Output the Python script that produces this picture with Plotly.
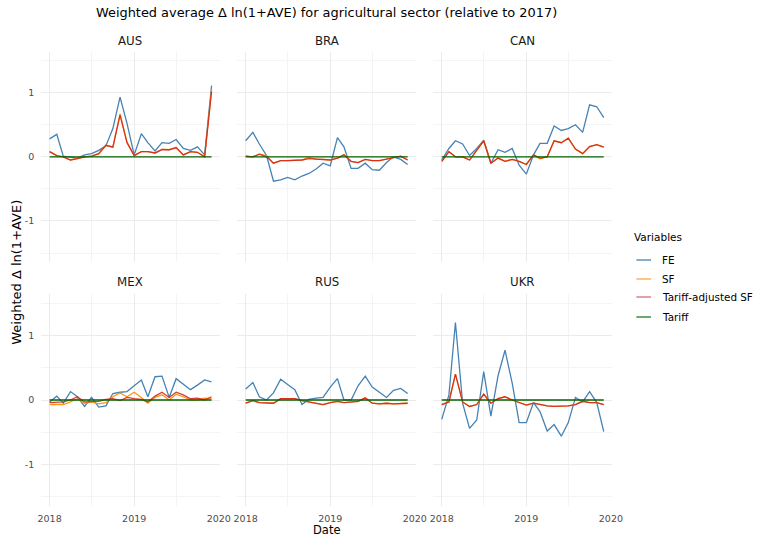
import pandas as pd
import plotly.graph_objects as go
from plotly.subplots import make_subplots

# Monthly observations, Jan 2018 - Dec 2019
months = pd.date_range("2018-01-01", "2019-12-01", freq="MS")

countries = ["AUS", "BRA", "CAN", "MEX", "RUS", "UKR"]
series_names = ["FE", "SF", "Tariff-adjusted SF", "Tariff"]

# Weighted Δ ln(1+AVE), one list per country and measure
aus_fe = [0.28, 0.35, 0.01, -0.01, -0.02, 0.03, 0.05, 0.10, 0.17, 0.44, 0.93, 0.52,
          0.03, 0.36, 0.22, 0.09, 0.22, 0.21, 0.27, 0.13, 0.10, 0.155, 0.03, 1.11]
aus_sf = [0.08, 0.02, 0.0, -0.05, -0.03, 0.0, 0.01, 0.05, 0.18, 0.15, 0.67, 0.23,
          0.02, 0.08, 0.08, 0.06, 0.12, 0.11, 0.15, 0.03, 0.08, 0.07, 0.0, 1.05]
aus_tsf = [0.08, 0.02, 0.0, -0.05, -0.03, 0.0, 0.01, 0.05, 0.18, 0.15, 0.65, 0.22,
           0.02, 0.08, 0.08, 0.06, 0.11, 0.11, 0.14, 0.03, 0.08, 0.07, 0.0, 1.02]
aus_tariff = [0.0, 0.0, 0.0, 0.0, 0.0, 0.0, 0.0, 0.0, 0.0, 0.0, 0.0, 0.0,
              0.0, 0.0, 0.0, 0.0, 0.0, 0.0, 0.0, 0.0, 0.0, 0.0, 0.0, 0.0]

bra_fe = [0.25, 0.38, 0.20, 0.02, -0.38, -0.36, -0.32, -0.36, -0.30, -0.26, -0.19, -0.10,
          -0.14, 0.30, 0.155, -0.18, -0.18, -0.10, -0.20, -0.21, -0.09, 0.0, -0.04, -0.12]
bra_sf = [0.01, 0.0, 0.04, 0.02, -0.10, -0.06, -0.06, -0.06, -0.05, -0.01, -0.04, -0.04,
          -0.05, -0.02, 0.03, -0.07, -0.09, -0.04, -0.06, -0.06, -0.04, -0.02, 0.01, -0.05]
bra_tsf = [0.01, 0.0, 0.04, 0.0, -0.10, -0.06, -0.06, -0.06, -0.05, -0.03, -0.04, -0.04,
           -0.05, -0.02, 0.03, -0.07, -0.09, -0.04, -0.06, -0.06, -0.04, -0.02, 0.01, -0.05]
bra_tariff = [0.0, 0.0, 0.0, 0.0, 0.0, 0.0, 0.0, 0.0, 0.0, 0.0, 0.0, 0.0,
              0.0, 0.0, 0.0, 0.0, 0.0, 0.0, 0.0, 0.0, 0.0, 0.0, 0.0, 0.0]

can_fe = [-0.05, 0.13, 0.25, 0.20, 0.02, 0.13, 0.26, -0.10, 0.11, 0.07, 0.13, -0.13,
          -0.27, 0.03, 0.21, 0.21, 0.48, 0.41, 0.44, 0.50, 0.38, 0.81, 0.78, 0.61]
can_sf = [-0.07, 0.08, 0.0, 0.0, -0.05, 0.10, 0.25, -0.10, -0.02, -0.07, -0.04, -0.07,
          -0.12, 0.03, -0.03, 0.0, 0.25, 0.22, 0.29, 0.12, 0.05, 0.16, 0.19, 0.15]
can_tsf = [-0.07, 0.08, 0.0, 0.0, -0.05, 0.10, 0.25, -0.10, -0.02, -0.07, -0.04, -0.07,
           -0.12, 0.03, -0.02, 0.0, 0.25, 0.22, 0.29, 0.12, 0.05, 0.16, 0.19, 0.15]
can_tariff = [0.0, 0.0, 0.0, 0.0, 0.0, 0.0, 0.0, 0.0, 0.0, 0.0, 0.0, 0.0,
              0.0, 0.0, 0.0, 0.0, 0.0, 0.0, 0.0, 0.0, 0.0, 0.0, 0.0, 0.0]

mex_fe = [-0.03, 0.06, -0.05, 0.13, 0.05, -0.10, 0.04, -0.11, -0.09, 0.10, 0.12, 0.13,
          0.22, 0.31, 0.05, 0.36, 0.37, 0.04, 0.33, 0.24, 0.16, 0.23, 0.31, 0.28]
mex_sf = [-0.07, -0.07, -0.07, -0.03, 0.02, -0.05, -0.03, -0.06, -0.04, 0.05, 0.11, 0.05,
          0.12, 0.04, -0.05, 0.04, 0.08, 0.0, 0.09, 0.05, 0.0, 0.0, 0.03, 0.02]
mex_tsf = [-0.04, -0.04, -0.03, 0.0, 0.05, -0.03, -0.02, -0.02, 0.01, 0.02, -0.01, 0.04,
           0.02, 0.01, -0.03, 0.06, 0.12, 0.04, 0.12, 0.08, 0.02, 0.03, 0.0, 0.05]
mex_tariff = [0.0, 0.0, 0.0, 0.0, 0.0, 0.0, 0.0, 0.0, 0.0, 0.0, 0.0, 0.0,
              0.0, 0.0, 0.0, 0.0, 0.0, 0.0, 0.0, 0.0, 0.0, 0.0, 0.0, 0.0]

rus_fe = [0.17, 0.27, 0.05, 0.0, 0.11, 0.32, 0.24, 0.16, -0.07, 0.01, 0.03, 0.04,
          0.20, 0.33, 0.0, 0.0, 0.22, 0.37, 0.20, 0.12, 0.04, 0.15, 0.18, 0.10]
rus_sf = [-0.05, -0.01, -0.04, -0.04, -0.05, 0.02, 0.02, 0.02, -0.01, -0.03, -0.05, -0.07,
          -0.04, -0.02, -0.04, -0.03, -0.02, 0.04, -0.05, -0.06, -0.05, -0.06, -0.06, -0.05]
rus_tsf = [-0.05, -0.01, -0.04, -0.04, -0.05, 0.02, 0.02, 0.02, -0.01, -0.03, -0.05, -0.07,
           -0.04, -0.02, -0.04, -0.03, -0.02, 0.03, -0.05, -0.06, -0.05, -0.06, -0.06, -0.05]
rus_tariff = [0.0, 0.0, 0.0, 0.0, 0.0, 0.0, 0.0, 0.0, 0.0, 0.0, 0.0, 0.0,
              0.0, 0.0, 0.0, 0.0, 0.0, 0.0, 0.0, 0.0, 0.0, 0.0, 0.0, 0.0]

ukr_fe = [-0.30, 0.08, 1.20, -0.05, -0.44, -0.31, 0.44, -0.25, 0.375, 0.77, 0.26, -0.35,
          -0.35, -0.04, -0.18, -0.48, -0.38, -0.56, -0.35, 0.04, -0.03, 0.13, -0.04, -0.49]
ukr_sf = [-0.07, -0.03, 0.40, -0.03, -0.10, -0.07, 0.09, -0.05, 0.02, 0.05, 0.0, -0.04,
          -0.08, -0.05, -0.07, -0.09, -0.10, -0.10, -0.09, -0.07, -0.02, -0.04, -0.04, -0.07]
ukr_tsf = [-0.07, -0.03, 0.40, -0.03, -0.10, -0.07, 0.09, -0.05, 0.02, 0.05, 0.0, -0.04,
           -0.08, -0.05, -0.07, -0.09, -0.10, -0.10, -0.09, -0.07, -0.02, -0.04, -0.04, -0.07]
ukr_tariff = [0.0, 0.0, 0.0, 0.0, 0.0, 0.0, 0.0, 0.0, 0.0, 0.0, 0.0, 0.0,
              0.0, 0.0, 0.0, 0.0, 0.0, 0.0, 0.0, 0.0, 0.0, 0.0, 0.0, 0.0]

data = {
    "AUS": [aus_fe, aus_sf, aus_tsf, aus_tariff],
    "BRA": [bra_fe, bra_sf, bra_tsf, bra_tariff],
    "CAN": [can_fe, can_sf, can_tsf, can_tariff],
    "MEX": [mex_fe, mex_sf, mex_tsf, mex_tariff],
    "RUS": [rus_fe, rus_sf, rus_tsf, rus_tariff],
    "UKR": [ukr_fe, ukr_sf, ukr_tsf, ukr_tariff],
}

colors = ["#4682B4", "#FF9512", "rgba(205,38,28,0.88)", "#006400"]
legend_colors = ["#4682B4", "#FFA640", "#DE6B6B", "#1E7A1E"]

W, H = 765, 536
FONT = "DejaVu Sans"

fig = make_subplots(rows=2, cols=3)

for k, c in enumerate(countries):
    r, col = k // 3 + 1, k % 3 + 1
    for s, name in enumerate(series_names):
        fig.add_trace(
            go.Scatter(x=months, y=data[c][s], mode="lines", name=name,
                       line=dict(color=colors[s], width=1.3),
                       showlegend=False, hoverinfo="skip"),
            row=r, col=col,
        )

# Panel geometry (pixels)
x_px = [(38, 220), (238, 420), (438, 620)]
y_px = [(51.6, 262), (294, 506)]

grid_major = "#EBEBEB"
grid_minor = "#F4F4F4"

for k in range(6):
    r, col = k // 3, k % 3
    idx = "" if k == 0 else str(k + 1)
    x0, x1 = x_px[col]
    y0, y1 = y_px[r]
    fig.layout["xaxis" + idx].update(
        domain=[x0 / W, x1 / W],
        range=["2017-11-26", "2020-01-05"],
        tickvals=["2018-01-01", "2019-01-01", "2020-01-01"],
        ticktext=["2018", "2019", "2020"],
        showticklabels=(r == 1),
        showgrid=True, gridcolor=grid_major, gridwidth=1.1,
        minor=dict(tickvals=["2018-07-02", "2019-07-02"], showgrid=True,
                   gridcolor=grid_minor, gridwidth=0.8, ticks=""),
        zeroline=False, showline=False, ticks="",
        tickfont=dict(family=FONT, size=9.5, color="#4D4D4D"),
        ticklabelstandoff=5,
    )
    fig.layout["yaxis" + idx].update(
        domain=[1 - y1 / H, 1 - y0 / H],
        range=[-1.64, 1.64],
        tickvals=[-1, 0, 1],
        ticktext=["-1", "0", "1"],
        showticklabels=(col == 0),
        showgrid=True, gridcolor=grid_major, gridwidth=1.1,
        minor=dict(tickvals=[-1.5, -0.5, 0.5, 1.5], showgrid=True,
                   gridcolor=grid_minor, gridwidth=0.8, ticks=""),
        zeroline=False, showline=False, ticks="",
        tickfont=dict(family=FONT, size=9.5, color="#4D4D4D"),
        ticklabelstandoff=6,
    )

annotations = []
# Facet strip labels
for k, c in enumerate(countries):
    r, col = k // 3, k % 3
    x0, x1 = x_px[col]
    ys = 41 if r == 0 else 282
    annotations.append(dict(
        text=c, x=(x0 + x1) / 2 / W, y=1 - ys / H, xref="paper", yref="paper",
        xanchor="center", yanchor="middle", showarrow=False,
        font=dict(family=FONT, size=11.8, color="#1A1A1A")))

# Title and axis titles
annotations.append(dict(
    text="Weighted average Δ ln(1+AVE) for agricultural sector (relative to 2017)",
    x=329 / W, y=1 - 13 / H, xref="paper", yref="paper", xanchor="center",
    yanchor="middle", showarrow=False, font=dict(family=FONT, size=12.9, color="black")))
annotations.append(dict(
    text="Date", x=329 / W, y=1 - 530 / H, xref="paper", yref="paper",
    xanchor="center", yanchor="middle", showarrow=False,
    font=dict(family=FONT, size=11.5, color="black")))
annotations.append(dict(
    text="Weighted Δ ln(1+AVE)", x=12 / W, y=1 - 272 / H, xref="paper", yref="paper",
    xanchor="center", yanchor="middle", textangle=-90, showarrow=False,
    font=dict(family=FONT, size=13, color="black")))

# Legend
shapes = []
annotations.append(dict(
    text="Variables", x=641 / W, y=1 - 237 / H, xref="paper", yref="paper",
    xanchor="left", yanchor="middle", showarrow=False,
    font=dict(family=FONT, size=10.5, color="black")))
legend_y = [260, 279, 297, 317]
for s, name in enumerate(series_names):
    yy = 1 - legend_y[s] / H
    shapes.append(dict(type="line", xref="paper", yref="paper",
                       x0=645 / W, x1=660 / W, y0=yy, y1=yy,
                       line=dict(color=legend_colors[s], width=1.3)))
    annotations.append(dict(
        text=name, x=669 / W, y=yy, xref="paper", yref="paper",
        xanchor="left", yanchor="middle", showarrow=False,
        font=dict(family=FONT, size=10.4, color="black")))

fig.update_layout(
    width=W, height=H,
    margin=dict(l=0, r=0, t=0, b=0),
    paper_bgcolor="white", plot_bgcolor="white",
    showlegend=False,
    annotations=annotations,
    shapes=shapes,
)

fig.write_html("out.html")
